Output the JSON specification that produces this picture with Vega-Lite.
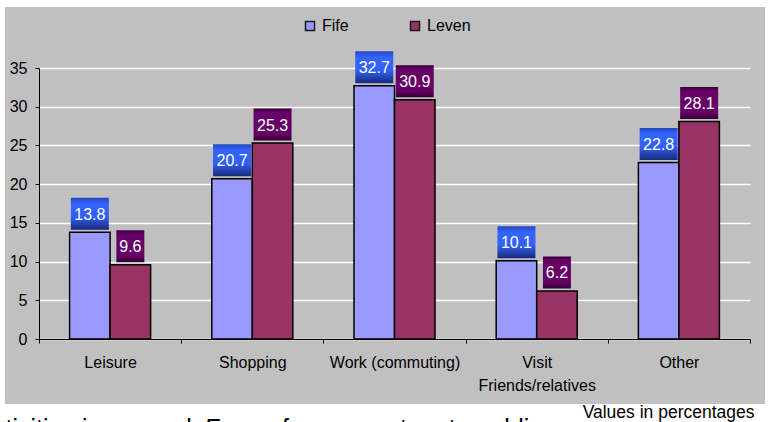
{
  "$schema": "https://vega.github.io/schema/vega-lite/v6.json",
  "width": 760,
  "height": 397,
  "autosize": {"type": "none"},
  "padding": {"left": 5, "top": 7, "right": 18, "bottom": 18},
  "background": "white",
  "config": {
    "view": {"fill": "#C0C0C0", "stroke": null},
    "font": "Liberation Sans"
  },
  "data": {
    "values": [
      {"category": "Leisure", "series": "Fife", "value": 13.8},
      {"category": "Leisure", "series": "Leven", "value": 9.6},
      {"category": "Shopping", "series": "Fife", "value": 20.7},
      {"category": "Shopping", "series": "Leven", "value": 25.3},
      {"category": "Work (commuting)", "series": "Fife", "value": 32.7},
      {"category": "Work (commuting)", "series": "Leven", "value": 30.9},
      {"category": "Visit Friends/relatives", "series": "Fife", "value": 10.1},
      {"category": "Visit Friends/relatives", "series": "Leven", "value": 6.2},
      {"category": "Other", "series": "Fife", "value": 22.8},
      {"category": "Other", "series": "Leven", "value": 28.1}
    ]
  },
  "encoding": {
    "x": {
      "field": "category",
      "type": "nominal",
      "sort": ["Leisure", "Shopping", "Work (commuting)", "Visit Friends/relatives", "Other"],
      "scale": {"range": [34, 745], "paddingInner": 0, "paddingOuter": 0},
      "axis": {
        "title": "Values in percentages",
        "titleX": 749,
        "titleY": 78,
        "titleAlign": "right",
        "titleBaseline": "alphabetic",
        "titleFontSize": 17.5,
        "titleFontWeight": "normal",
        "titleColor": "black",
        "offset": -65,
        "tickBand": "extent",
        "labelAngle": 0,
        "labelFontSize": 16,
        "labelColor": "black",
        "labelPadding": 11,
        "labelLineHeight": 23,
        "labelExpr": "datum.value == 'Visit Friends/relatives' ? ['Visit', 'Friends/relatives'] : datum.value",
        "tickSize": 4,
        "tickColor": "black",
        "domainColor": "black",
        "grid": false
      }
    },
    "xOffset": {
      "field": "series",
      "type": "nominal",
      "sort": ["Fife", "Leven"],
      "scale": {"paddingOuter": 0.755, "paddingInner": 0}
    },
    "y": {
      "field": "value",
      "type": "quantitative",
      "scale": {"domain": [0, 35], "range": [332, 61], "nice": false},
      "axis": {
        "offset": -34,
        "values": [0, 5, 10, 15, 20, 25, 30, 35],
        "title": "tivities in general. Fewer for commuters to public",
        "titleAngle": 0,
        "titleX": -34,
        "titleY": 429.5,
        "titleAlign": "left",
        "titleBaseline": "alphabetic",
        "titleFontSize": 25,
        "titleFontWeight": "normal",
        "titleColor": "black",
        "grid": true,
        "gridColor": "white",
        "gridWidth": 1.5,
        "gridOpacity": 1,
        "domainColor": "black",
        "tickColor": "black",
        "tickSize": 4,
        "labelFontSize": 16,
        "labelPadding": 8,
        "labelColor": "black"
      }
    }
  },
  "layer": [
    {
      "mark": {"type": "bar", "stroke": "black", "strokeWidth": 1.5},
      "encoding": {
        "color": {
          "field": "series",
          "type": "nominal",
          "sort": ["Fife", "Leven"],
          "scale": {"domain": ["Fife", "Leven"], "range": ["#9999FF", "#993366"]},
          "legend": {
            "title": null,
            "orient": "none",
            "legendX": 297,
            "legendY": 11,
            "direction": "horizontal",
            "symbolType": "square",
            "symbolSize": 81,
            "symbolStrokeColor": "#1a1a1a",
            "symbolStrokeWidth": 1.5,
            "labelFontSize": 16,
            "labelColor": "black",
            "labelOffset": 4,
            "columnPadding": 58
          }
        }
      }
    },
    {
      "mark": {"type": "point", "filled": true, "size": 1444, "yOffset": -18.5, "opacity": 1, "strokeWidth": 0},
      "encoding": {
        "shape": {
          "condition": {"test": "datum.value < 10", "value": "M-0.737,-0.842H0.737V0.842H-0.737Z"},
          "value": "M-1,-0.842H1V0.842H-1Z"
        },
        "fill": {
          "condition": {
            "test": "datum.series === 'Fife'",
            "value": {
              "gradient": "linear", "x1": 0, "y1": 0, "x2": 0, "y2": 1,
              "stops": [
                {"offset": 0, "color": "#2448c0"},
                {"offset": 0.2, "color": "#3366ff"},
                {"offset": 0.6, "color": "#3060f0"},
                {"offset": 1, "color": "#1a2a7a"}
              ]
            }
          },
          "value": {
            "gradient": "linear", "x1": 0, "y1": 0, "x2": 0, "y2": 1,
            "stops": [
              {"offset": 0, "color": "#380038"},
              {"offset": 0.12, "color": "#660066"},
              {"offset": 0.8, "color": "#660066"},
              {"offset": 1, "color": "#330033"}
            ]
          }
        }
      }
    },
    {
      "mark": {"type": "text", "color": "white", "fontSize": 16, "yOffset": -17.5, "baseline": "middle", "align": "center"},
      "encoding": {
        "text": {"field": "value", "type": "quantitative", "format": ".1f"}
      }
    }
  ]
}
